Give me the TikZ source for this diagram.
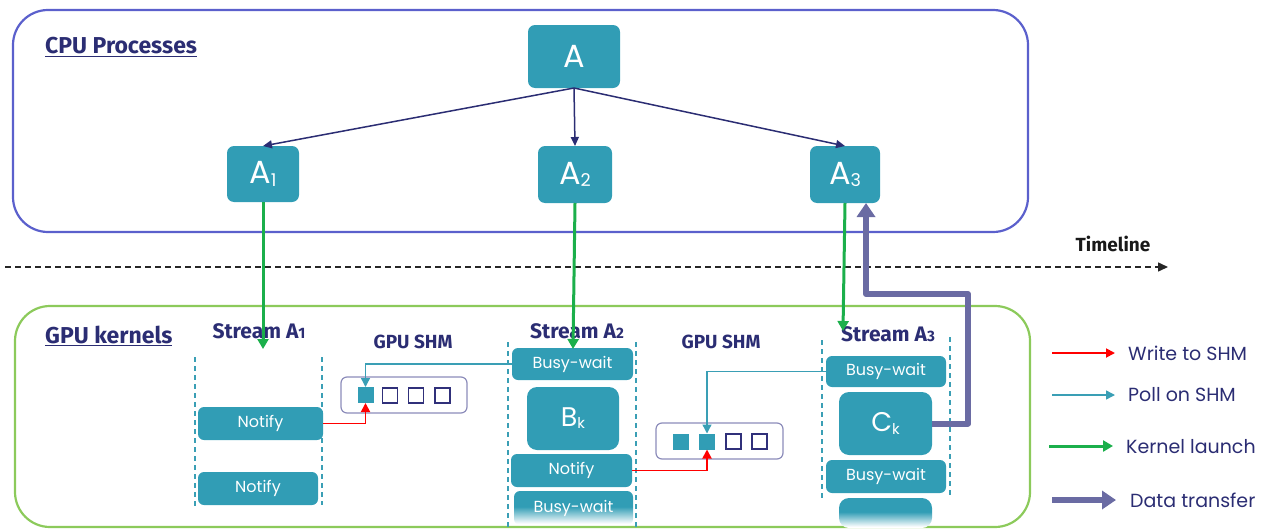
\documentclass[tikz,border=0pt]{standalone}
\usepackage{fontspec}
\setmainfont{Poppins}
\newfontfamily\labfont{Fira Sans}
\usetikzlibrary{arrows.meta}

\definecolor{tealbox}{HTML}{319DB5}
\definecolor{navy}{HTML}{2B2D73}
\definecolor{cpuline}{HTML}{5B60CC}
\definecolor{gpuline}{HTML}{8CCA5B}
\definecolor{xfer}{HTML}{6A6BA3}
\definecolor{pollc}{HTML}{3A9FB5}
\definecolor{launchc}{HTML}{1BAF4B}
\definecolor{shmline}{HTML}{8C8CBA}
\definecolor{sqline}{HTML}{30307A}

% solid teal at the top, fading to white towards the bottom
\pgfdeclareverticalshading{tealfade}{100bp}{color(0bp)=(white); color(27bp)=(white); color(52bp)=(tealbox); color(100bp)=(tealbox)}

\newcommand{\sub}[1]{\raisebox{-0.08em}{\fontsize{0.55em}{0.55em}\selectfont #1}}
\newcommand{\lsub}[1]{{\fontsize{0.72em}{0.72em}\selectfont #1}}

\begin{document}
\begin{tikzpicture}[x=1pt,y=-1pt,
  proc/.style={fill=tealbox, rounded corners=7pt, text=white, inner sep=0pt, outer sep=0pt,
               font=\fontsize{32}{32}\selectfont},
  task/.style={fill=tealbox, rounded corners=6pt, text=white, inner sep=0pt, outer sep=0pt,
               font=\fontsize{16}{16}\selectfont},
  bigtask/.style={task, rounded corners=10pt, font=\fontsize{27}{27}\selectfont},
  fadetask/.style={task, fill=none, shade, shading=tealfade},
  heading/.style={text=navy, font=\labfont\bfseries\fontsize{23}{23}\selectfont, inner sep=0pt},
  sublabel/.style={text=navy, font=\labfont\bfseries\fontsize{21}{21}\selectfont, inner sep=0pt},
  shmlabel/.style={text=navy, font=\labfont\bfseries\fontsize{19}{19}\selectfont, inner sep=0pt},
  legtext/.style={text=navy, font=\fontsize{19}{19}\selectfont, anchor=west, inner sep=0pt},
  group/.style={line width=2.2pt, rounded corners=35pt},
  column/.style={pollc, line width=1.2pt, dash pattern=on 5pt off 4pt},
  shmbox/.style={draw=shmline, line width=1.2pt, rounded corners=6pt},
  fullsq/.style={fill=tealbox, minimum size=16pt, inner sep=0pt, outer sep=0pt},
  emptysq/.style={draw=sqline, line width=1.2pt, minimum size=15pt, inner sep=0pt, outer sep=0pt},
  spawn/.style={navy, line width=1.5pt, -{Triangle[length=9pt,width=8pt]}},
  launch/.style={launchc, line width=3pt, -{Triangle[length=10pt,width=11pt]}},
  writeshm/.style={red, line width=1.8pt, -{Triangle[length=9pt,width=9pt]}},
  pollshm/.style={pollc, line width=1.4pt, -{Triangle[length=9pt,width=9pt]}},
  transfer/.style={xfer, line width=6pt, -{Triangle[length=14pt,width=18pt]}},
]
\useasboundingbox (0,0) rectangle (1277,530);

% ---------- CPU side ----------
\draw[group, cpuline] (13,10) rectangle (1028,232);
\node[heading, anchor=west] (cpulab) at (45,47) {\underline{CPU Processes}};

\node[proc, minimum width=92pt, minimum height=63pt] (A)  at (574,56.5) {A};
\node[proc, minimum width=72pt, minimum height=56pt] (A1) at (263,174) {A\sub{1}};
\node[proc, minimum width=74pt, minimum height=57pt] (A2) at (575,174.5) {A\sub{2}};
\node[proc, minimum width=70pt, minimum height=57pt] (A3) at (845,174.5) {A\sub{3}};

\draw[spawn] (A.south) -- (A1.north);
\draw[spawn] (A.south) -- (A2.north);
\draw[spawn] (A.south) -- (A3.north);

% ---------- timeline ----------
\coordinate (t0) at (5,267);
\coordinate (t1) at (1168,267);
\draw[black!85, line width=1.5pt, dash pattern=on 6pt off 4pt, -{Triangle[length=10pt,width=9pt]}] (t0) -- (t1);
\node[text=black!90, font=\labfont\bfseries\fontsize{19}{19}\selectfont, inner sep=0pt] (tl) at (1113,244) {Timeline};

% ---------- GPU side ----------
\draw[group, gpuline] (15,306) rectangle (1030,527);
\node[heading, anchor=west] (gpulab) at (45,336) {\underline{GPU kernels}};

% stream A1
\node[sublabel] (s1lab) at (259,331) {Stream A\lsub{1}};
\draw[column] (195,357) -- (195,508);
\draw[column] (322,357) -- (322,505);
\node[task, minimum width=125pt, minimum height=33pt] (N1) at (260.5,423.5) {Notify};
\node[task, minimum width=120pt, minimum height=33pt] (N2) at (258,488.5) {Notify};

% first shared memory buffer
\node[shmlabel] (shm1lab) at (413,342) {GPU SHM};
\draw[shmbox] (341,377) rectangle (467,413);
\node[fullsq]  (s11) at (365.5,395) {};
\node[emptysq] (s12) at (390,395.5) {};
\node[emptysq] (s13) at (416,395.5) {};
\node[emptysq] (s14) at (442.5,395.5) {};

% stream A2
\node[sublabel] (s2lab) at (577,331) {Stream A\lsub{2}};
\draw[column] (508,342) -- (508,528);
\draw[column] (636,342) -- (636,528);
\node[task, minimum width=121pt, minimum height=32pt] (BW1) at (572.5,364) {Busy-wait};
\node[bigtask, minimum width=92pt, minimum height=63pt] (Bk) at (573,418.5) {B\sub{k}};
\node[task, minimum width=121pt, minimum height=33pt] (N3) at (571.5,470.5) {Notify};
\node[fadetask, minimum width=119pt, minimum height=34pt] (BW2) at (573.5,508) {Busy-wait};

% second shared memory buffer
\node[shmlabel] (shm2lab) at (721,342) {GPU SHM};
\draw[shmbox] (656,423) rectangle (783,459);
\node[fullsq]  (s21) at (681,441.5) {};
\node[fullsq]  (s22) at (707,441.5) {};
\node[emptysq] (s23) at (733.5,441.5) {};
\node[emptysq] (s24) at (759.5,441.5) {};

% stream A3
\node[sublabel] (s3lab) at (888,334) {Stream A\lsub{3}};
\draw[column] (822,340) -- (822,500);
\draw[column] (950,337) -- (950,497);
\node[task, minimum width=120pt, minimum height=31pt] (BW3) at (886,371.5) {Busy-wait};
\node[bigtask, minimum width=93pt, minimum height=63pt] (Ck) at (885.5,423.5) {C\sub{k}};
\node[task, minimum width=120pt, minimum height=33pt] (BW4) at (886,476.5) {Busy-wait};
\node[fadetask, rounded corners=10pt, minimum width=93pt, minimum height=30pt] (Cf) at (885.5,513) {};

% kernel launches
\coordinate (k1) at (263,349);
\coordinate (k2) at (573,349);
\coordinate (k3) at (843,331);
\draw[launch] (A1.south) -- (k1);
\draw[launch] (A2.south) -- (k2);
\draw[launch] (A3.south) -- (k3);

% writes and polls on shared memory
\draw[writeshm] (N1.east) -| (s11.south);
\draw[pollshm]  (BW1.west) -| (s11.north);
\draw[writeshm] (N3.east) -| (s22.south);
\draw[pollshm]  (BW3.west) -| (s22.north);

% data transfer back to the host process
\coordinate (d1) at (968,423.5);
\coordinate (d2) at (968,294);
\coordinate (d3) at (866,294);
\draw[transfer, line join=round] (Ck.east) -- (d1) -- (d2) -- (d3) -- (d3 |- A3.south);

% ---------- legend ----------
\coordinate (l1a) at (1052,353); \coordinate (l1b) at (1115,353);
\coordinate (l2a) at (1052,395); \coordinate (l2b) at (1115,395);
\coordinate (l3a) at (1049,446); \coordinate (l3b) at (1113,446);
\coordinate (l4a) at (1052,500); \coordinate (l4b) at (1116,500);
\draw[writeshm] (l1a) -- (l1b);
\draw[pollshm]  (l2a) -- (l2b);
\draw[launch]   (l3a) -- (l3b);
\draw[transfer] (l4a) -- (l4b);
\node[legtext] (lg1) at (1128,353) {Write to SHM};
\node[legtext] (lg2) at (1128,395) {Poll on SHM};
\node[legtext] (lg3) at (1126,447) {Kernel launch};
\node[legtext] (lg4) at (1130,500) {Data transfer};
\end{tikzpicture}
\end{document}
